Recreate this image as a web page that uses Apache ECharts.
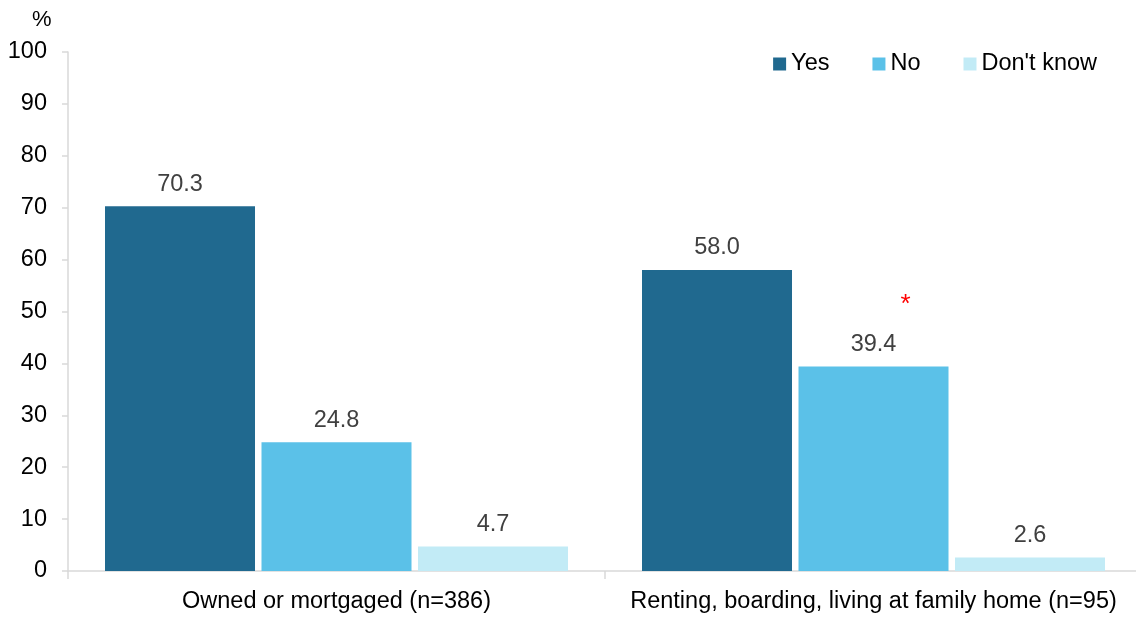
<!DOCTYPE html>
<html>
<head>
<meta charset="utf-8">
<script src="https://cdn.jsdelivr.net/npm/echarts@6/dist/echarts.min.js"></script>
<style>
  html, body { margin: 0; padding: 0; background: #ffffff; }
  #chart { width: 1136px; height: 617px; }
</style>
</head>
<body>
<div id="chart"></div>
<script>
// Housing tenure groups and the share of answers in each
const categories = ['Owned or mortgaged (n=386)', 'Renting, boarding, living at family home (n=95)'];
const yesValues = [70.3, 58.0];
const noValues = [24.8, 39.4];
const dontKnowValues = [4.7, 2.6];
const yTicks = [0, 10, 20, 30, 40, 50, 60, 70, 80, 90, 100];
// Marked as a significant difference
const flaggedNo = [false, true];

const FONT = '"Liberation Sans", Arial, Helvetica, sans-serif';
const FS = 23.5;
const chart = echarts.init(document.getElementById('chart'));

function valueLabel() {
  return {
    show: true,
    position: 'top',
    distance: 10,
    color: '#404040',
    fontFamily: FONT,
    fontSize: FS,
    formatter: p => p.value.toFixed(1)
  };
}

const noData = noValues.map((v, i) => {
  if (!flaggedNo[i]) return v;
  return {
    value: v,
    label: {
      formatter: p => '{s|*}\n{v|' + p.value.toFixed(1) + '}',
      rich: {
        s: { color: '#ff0000', fontSize: 26, fontFamily: FONT, padding: [0, 0, 0, 64], lineHeight: 24 },
        v: { color: '#404040', fontSize: FS, fontFamily: FONT, lineHeight: 40, verticalAlign: 'bottom' }
      }
    }
  };
});

chart.setOption({
  animation: false,
  textStyle: { fontFamily: FONT },
  title: {
    text: '%',
    left: 27,
    top: 4,
    textStyle: { fontFamily: FONT, fontSize: 22, fontWeight: 'normal', color: '#000' }
  },
  legend: {
    top: 47,
    right: 34,
    itemWidth: 13,
    itemHeight: 13,
    itemGap: 43,
    icon: 'rect',
    textStyle: { fontFamily: FONT, fontSize: FS, color: '#000' },
    data: ['Yes', 'No', "Don't know"]
  },
  grid: { left: 68, top: 52, right: -6, bottom: 46, containLabel: false, outerBoundsMode: 'none' },
  xAxis: {
    type: 'category',
    data: categories,
    axisLine: { lineStyle: { color: '#d9d9d9', width: 1.5 } },
    axisTick: { show: true, interval: 0, length: 8, lineStyle: { color: '#d9d9d9', width: 1.5 } },
    axisLabel: { color: '#000', fontFamily: FONT, fontSize: FS, margin: 19, interval: 0 }
  },
  yAxis: {
    type: 'value',
    min: yTicks[0],
    max: yTicks[yTicks.length - 1],
    interval: yTicks[1] - yTicks[0],
    splitLine: { show: false },
    axisLine: { show: true, lineStyle: { color: '#d9d9d9', width: 1.5 } },
    axisTick: { show: true, length: 6, lineStyle: { color: '#d9d9d9', width: 1.5 } },
    axisLabel: { color: '#000', fontFamily: FONT, fontSize: FS, margin: 21 }
  },
  series: [
    {
      name: 'Yes', type: 'bar', data: yesValues,
      barWidth: 150, barGap: '4.33%',
      itemStyle: { color: '#20698f' },
      label: valueLabel()
    },
    {
      name: 'No', type: 'bar', data: noData,
      barWidth: 150, barGap: '4.33%',
      itemStyle: { color: '#5bc1e8' },
      label: valueLabel()
    },
    {
      name: "Don't know", type: 'bar', data: dontKnowValues,
      barWidth: 150, barGap: '4.33%',
      itemStyle: { color: '#c2ebf6' },
      label: valueLabel()
    }
  ]
});
</script>
</body>
</html>
